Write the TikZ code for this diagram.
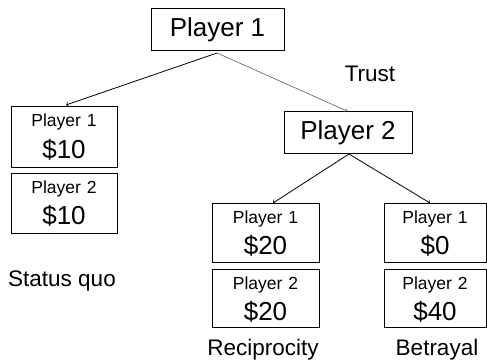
\documentclass[tikz,border=0pt]{standalone}
\usepackage{fontspec}
\setmainfont{Liberation Sans}
\begin{document}
\begin{tikzpicture}[x=1pt,y=-1pt,
  box/.style={draw,line width=0.8pt,minimum width=#1,inner sep=0pt,anchor=north west},
  big/.style={font=\fontsize{26}{28}\selectfont,inner sep=0pt},
  small/.style={font=\fontsize{17.5}{19}\selectfont,inner sep=0pt},
  lab/.style={font=\fontsize{22.5}{25}\selectfont,inner sep=0pt},
  arr/.style={->,line width=0.8pt}]
\useasboundingbox (0,0) rectangle (487,362);
% top
\node[box=133pt,minimum height=42pt] (p1) at (151,8) {};
\node[big] at (217.5,30) {Player 1};
\node[lab] at (370,74) {Trust};
% left boxes
\node[box=106pt,minimum height=61pt] (l1) at (11,106) {};
\node[box=106pt,minimum height=60pt] (l2) at (11,173) {};
\node[small] at (64,122) {Player\,\,1};
\node[big] at (64,150) {\$10};
\node[small] at (64,189) {Player\,\,2};
\node[big] at (64,216) {\$10};
\node[lab] at (62,281) {Status quo};
% player 2
\node[box=128pt,minimum height=42pt] (p2) at (284,111) {};
\node[big] at (348,133) {Player 2};
% reciprocity
\node[box=107pt,minimum height=59pt] (r1) at (212,203) {};
\node[box=107pt,minimum height=58pt] (r2) at (212,269) {};
\node[small] at (265.5,219) {Player\,\,1};
\node[big] at (265.5,246) {\$20};
\node[small] at (265.5,285) {Player\,\,2};
\node[big] at (265.5,312) {\$20};
\node[lab] at (263,350) {Reciprocity};
% betrayal
\node[box=102pt,minimum height=59pt] (b1) at (384,203) {};
\node[box=102pt,minimum height=58pt] (b2) at (384,269) {};
\node[small] at (435,219) {Player\,\,1};
\node[big] at (435,246) {\$0};
\node[small] at (435,285) {Player\,\,2};
\node[big] at (435,312) {\$40};
\node[lab] at (437,350) {Betrayal};
% connectors
\coordinate (s1) at (217,53);
\coordinate (e1) at (66,105);
\coordinate (e2) at (347,111);
\coordinate (s2) at (349,154);
\coordinate (e3) at (273,203);
\coordinate (e4) at (430,203);
\draw[arr] (s1) -- (e1);
\draw[arr,line width=0.6pt,gray!70!black] (s1) -- (e2);
\draw[arr] (s2) -- (e3);
\draw[arr] (s2) -- (e4);
\end{tikzpicture}
\end{document}
